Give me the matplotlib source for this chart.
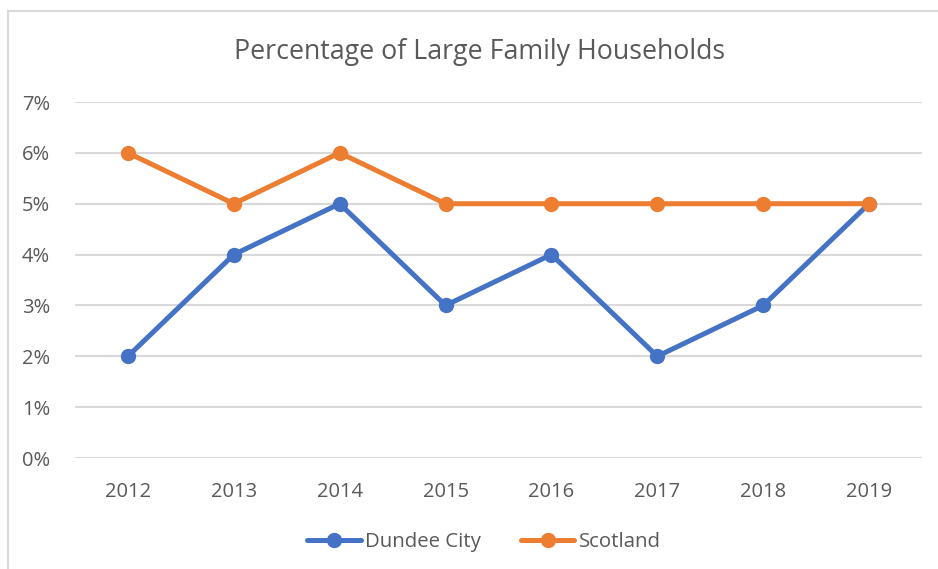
import matplotlib
matplotlib.use("Agg")
import matplotlib.pyplot as plt
from matplotlib.patches import Rectangle
from matplotlib.ticker import FuncFormatter

# data
years = ["2012", "2013", "2014", "2015", "2016", "2017", "2018", "2019"]
dundee = [2, 4, 5, 3, 4, 2, 3, 5]
scotland = [6, 5, 6, 5, 5, 5, 5, 5]

BLUE = "#4472C4"
ORANGE = "#ED7D31"
TEXT = "#595959"
GRID = "#D9D9D9"

plt.rcParams["font.family"] = ["Open Sans", "DejaVu Sans"]

fig = plt.figure(figsize=(9.38, 5.69), dpi=100)
ax = fig.add_axes([75 / 938, 1 - 458 / 569, (922 - 75) / 938, (458 - 102) / 569])

# chart border (cut off at right and bottom in the original)
fig.patches.append(Rectangle((8 / 938, -0.05), 1.1, 1 - 11 / 569 + 0.05,
                             transform=fig.transFigure, fill=False,
                             edgecolor=GRID, linewidth=1.5))

x = range(len(years))
ax.plot(x, dundee, color=BLUE, lw=3.6, marker="o", ms=10, label="Dundee City",
        solid_capstyle="round", zorder=3)
ax.plot(x, scotland, color=ORANGE, lw=3.6, marker="o", ms=10, label="Scotland",
        solid_capstyle="round", zorder=3)

ax.set_xlim(-0.5, len(years) - 0.5)
ax.set_ylim(0, 7)
ax.set_yticks(range(0, 8))
ax.yaxis.set_major_formatter(FuncFormatter(lambda v, p: f"{v:.0f}%"))
ax.set_xticks(list(x))
ax.set_xticklabels(years)

ax.grid(axis="y", color=GRID, lw=1.5)
ax.set_axisbelow(True)
for s in ax.spines.values():
    s.set_visible(False)
ax.tick_params(length=0, labelsize=14.5, colors=TEXT, pad=17)
ax.tick_params(axis="y", pad=18)

fig.text(480 / 938, 1 - 52 / 569, "Percentage of Large Family Households",
         ha="center", va="center", fontsize=19.3, color=TEXT)

leg = fig.legend(loc="center", bbox_to_anchor=(484 / 938, 1 - 542 / 569), ncol=2,
                 frameon=False, fontsize=14.7, handlelength=2.6, columnspacing=2.0,
                 handletextpad=0.2)
for t in leg.get_texts():
    t.set_color(TEXT)

fig.savefig("out.png", dpi=100)
